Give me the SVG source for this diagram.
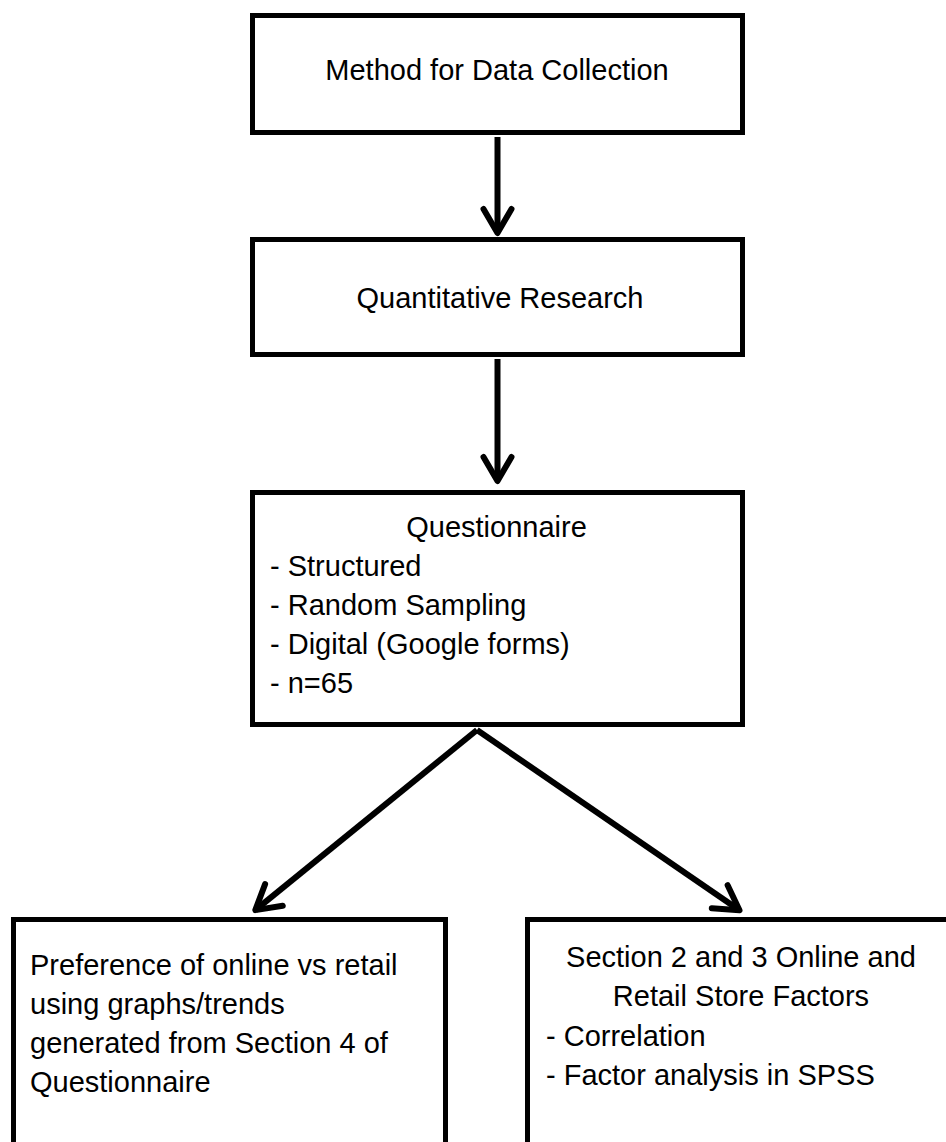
<svg xmlns="http://www.w3.org/2000/svg" width="946" height="1142" viewBox="0 0 946 1142">
  <defs>
    <style>
      .box { fill: #ffffff; stroke: #000000; stroke-width: 5; }
      .lbl { font-family: "Liberation Sans", Arial, sans-serif; font-size: 29px; fill: #000000; }
      .mid { text-anchor: middle; }
      .wire { fill: none; stroke: #000000; stroke-width: 6; stroke-linecap: butt; }
    </style>
    <!-- open chevron head; apex sits on the end of the line -->
    <marker id="chevron" markerUnits="userSpaceOnUse" markerWidth="40" markerHeight="40"
            viewBox="-30 -20 40 40" refX="0" refY="0" orient="auto" overflow="visible">
      <path d="M-24,-14 L0,0 L-24,14" fill="none" stroke="#000000" stroke-width="6"
            stroke-linecap="round" stroke-linejoin="round"/>
    </marker>
  </defs>

  <rect x="0" y="0" width="946" height="1142" fill="#ffffff"/>

  <g id="method">
    <rect class="box" x="252.5" y="15.5" width="490" height="117"/>
    <text class="lbl mid" x="497" y="80">Method for Data Collection</text>
  </g>

  <g id="quantitative">
    <rect class="box" x="252.5" y="239.5" width="490" height="115"/>
    <text class="lbl mid" x="500" y="308">Quantitative Research</text>
  </g>

  <g id="questionnaire">
    <rect class="box" x="252.5" y="492.5" width="490" height="232"/>
    <text class="lbl mid" x="496.5" y="536.5">Questionnaire</text>
    <text class="lbl" x="270" y="575.5">- Structured</text>
    <text class="lbl" x="270" y="614.5">- Random Sampling</text>
    <text class="lbl" x="270" y="653.5">- Digital (Google forms)</text>
    <text class="lbl" x="270" y="692.5">- n=65</text>
  </g>

  <g id="preference">
    <rect class="box" x="13.5" y="919.5" width="432" height="260"/>
    <text class="lbl" x="30" y="975">Preference of online vs retail</text>
    <text class="lbl" x="30" y="1014">using graphs/trends</text>
    <text class="lbl" x="30" y="1053">generated from Section 4 of</text>
    <text class="lbl" x="30" y="1092">Questionnaire</text>
  </g>

  <g id="factors">
    <rect class="box" x="527.5" y="919.5" width="440" height="260"/>
    <text class="lbl mid" x="741" y="967">Section 2 and 3 Online and</text>
    <text class="lbl mid" x="741" y="1006">Retail Store Factors</text>
    <text class="lbl" x="546" y="1046">- Correlation</text>
    <text class="lbl" x="546" y="1085">- Factor analysis in SPSS</text>
  </g>

  <g id="connectors">
    <line class="wire" x1="497.5" y1="137" x2="497.5" y2="233" marker-end="url(#chevron)"/>
    <line class="wire" x1="497.5" y1="359" x2="497.5" y2="481" marker-end="url(#chevron)"/>
    <line class="wire" x1="477" y1="730" x2="255.3" y2="910.1" marker-end="url(#chevron)"/>
    <line class="wire" x1="477" y1="730" x2="739.5" y2="910.3" marker-end="url(#chevron)"/>
  </g>
</svg>
